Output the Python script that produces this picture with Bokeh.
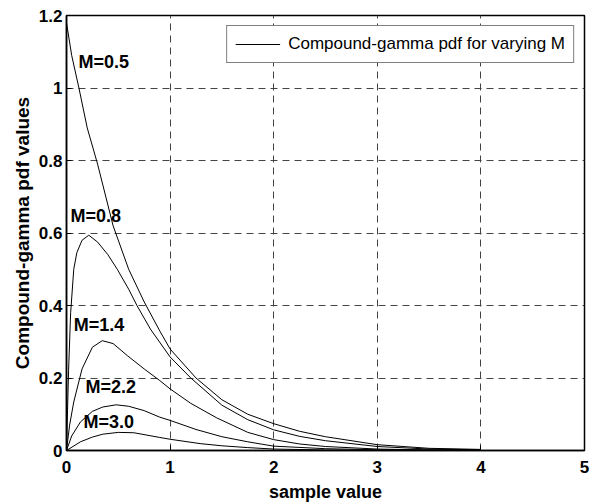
from bokeh.plotting import figure
from bokeh.models import Range1d, Legend, LegendItem, FixedTicker, ColumnDataSource
from bokeh.core.properties import value
from bokeh.embed import file_html
from bokeh.resources import INLINE

# ---- data ----
x_m05 = [0, 0.05, 0.12, 0.2, 0.3, 0.45, 0.6, 0.75, 0.9, 1.0, 1.25, 1.5, 1.75, 2.0, 2.25, 2.5, 3.0, 3.5, 4.0]
y_m05 = [1.18, 1.09, 1.0, 0.89, 0.79, 0.62, 0.50, 0.41, 0.33, 0.28, 0.20, 0.14, 0.10, 0.074, 0.053, 0.038, 0.016, 0.006, 0.003]

x_m08 = [0, 0.02, 0.04, 0.07, 0.1, 0.15, 0.215, 0.3, 0.4, 0.49, 0.6, 0.68, 0.81, 1.0, 1.2, 1.5, 1.75, 2.0, 2.25, 2.5, 3.0, 3.5, 4.0]
y_m08 = [0, 0.22, 0.38, 0.50, 0.546, 0.58, 0.594, 0.575, 0.54, 0.50, 0.445, 0.40, 0.335, 0.258, 0.20, 0.125, 0.085, 0.057, 0.039, 0.027, 0.011, 0.004, 0.002]

x_m14 = [0, 0.03, 0.07, 0.15, 0.25, 0.345, 0.45, 0.586, 0.75, 0.9, 1.0, 1.2, 1.45, 1.75, 2.0, 2.25, 2.5, 3.0, 3.5, 4.0]
y_m14 = [0, 0.07, 0.134, 0.225, 0.285, 0.303, 0.295, 0.262, 0.225, 0.193, 0.17, 0.13, 0.09, 0.05, 0.03, 0.018, 0.011, 0.004, 0.0015, 0.001]

x_m22 = [0, 0.05, 0.135, 0.25, 0.35, 0.48, 0.6, 0.75, 0.9, 1.0, 1.25, 1.5, 1.75, 2.0, 2.5, 3.0, 3.5, 4.0]
y_m22 = [0, 0.04, 0.079, 0.108, 0.12, 0.126, 0.122, 0.11, 0.092, 0.083, 0.058, 0.038, 0.024, 0.012, 0.005, 0.002, 0.001, 0.0005]

x_m30 = [0, 0.135, 0.25, 0.35, 0.5, 0.65, 0.9, 1.0, 1.29, 1.5, 1.75, 2.0, 2.5, 3.0, 4.0]
y_m30 = [0, 0.024, 0.037, 0.045, 0.05, 0.049, 0.036, 0.031, 0.019, 0.013, 0.008, 0.004, 0.0015, 0.0006, 0.0002]

curve_labels = ["M=0.5", "M=0.8", "M=1.4", "M=2.2", "M=3.0"]
curve_label_x = [0.116, 0.039, 0.07, 0.183, 0.164]
curve_label_y = [1.073, 0.647, 0.345, 0.174, 0.078]

x_ticks = [0, 1, 2, 3, 4, 5]
x_tick_labels = ["0", "1", "2", "3", "4", "5"]
y_ticks = [0, 0.2, 0.4, 0.6, 0.8, 1, 1.2]
y_tick_labels = ["0", "0.2", "0.4", "0.6", "0.8", "1", "1.2"]

legend_text = "Compound-gamma pdf for varying M"
x_title = "sample value"
y_title = "Compound-gamma pdf values"

FONT = "Liberation Sans"

p = figure(width=600, height=504, output_backend="svg", toolbar_location=None,
           x_range=Range1d(0, 5), y_range=Range1d(0, 1.2),
           min_border_left=66, min_border_right=16, min_border_top=15, min_border_bottom=52)

p.outline_line_color = "black"
p.outline_line_width = 1.5
p.background_fill_color = "white"
p.border_fill_color = "white"

series = [(x_m05, y_m05), (x_m08, y_m08), (x_m14, y_m14), (x_m22, y_m22), (x_m30, y_m30)]
renderers = []
for xs, ys in series:
    r = p.line(xs, ys, line_color="black", line_width=1)
    renderers.append(r)

# axes
xax = p.xaxis[0]
yax = p.yaxis[0]
xax.ticker = FixedTicker(ticks=x_ticks)
yax.ticker = FixedTicker(ticks=y_ticks)
xax.major_label_overrides = dict(zip(x_ticks, x_tick_labels))
yax.major_label_overrides = dict(zip(y_ticks, y_tick_labels))
for ax in (xax, yax):
    ax.major_tick_in = 5
    ax.major_tick_out = 0
    ax.minor_tick_in = 0
    ax.minor_tick_out = 0
    ax.axis_line_color = "black"
    ax.axis_line_width = 1.5
    ax.major_tick_line_color = "black"
    ax.major_label_text_font = FONT
    ax.major_label_text_font_style = "bold"
    ax.major_label_text_font_size = "17px"
    ax.major_label_text_color = "black"
    ax.axis_label_text_font = FONT
    ax.axis_label_text_font_style = "bold"
    ax.axis_label_text_color = "black"
xax.axis_label = x_title
yax.axis_label = y_title
xax.axis_label_text_font_size = "18px"
yax.axis_label_text_font_size = "19px"
xax.major_label_standoff = 10
xax.axis_label_standoff = 6
yax.major_label_standoff = 4
yax.axis_label_standoff = 3

# grid
for g in (p.xgrid[0], p.ygrid[0]):
    g.grid_line_color = "#444444"
    g.grid_line_dash = "7 5"
    g.grid_line_width = 1

# curve annotations
src = ColumnDataSource(dict(x=curve_label_x, y=curve_label_y, t=curve_labels))
p.text(x="x", y="y", text="t", source=src, text_font=value(FONT), text_font_style="bold",
       text_font_size="18px", text_baseline="middle", text_align="left", text_color="black")

legend = Legend(items=[LegendItem(label=legend_text, renderers=[renderers[0]])],
                location="top_right", margin=10, padding=8, spacing=0,
                glyph_width=45, glyph_height=18, label_height=18, label_standoff=8,
                border_line_color="black", border_line_width=1,
                label_text_font=FONT, label_text_font_size="17px", label_text_color="black",
                background_fill_color="white", background_fill_alpha=1)
p.add_layout(legend)

open("out.html", "w").write(file_html(p, INLINE))
